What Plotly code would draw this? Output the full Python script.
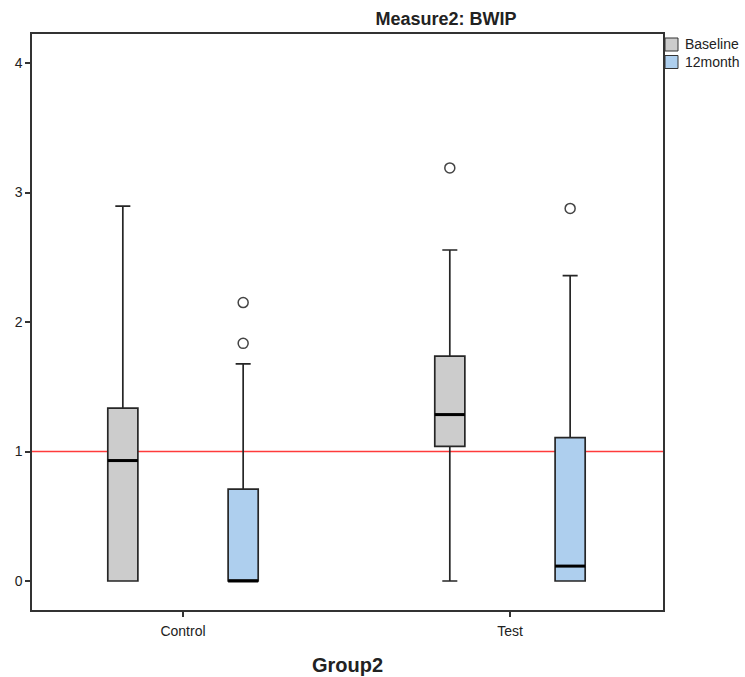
import plotly.graph_objects as go

groups = ["Control", "Test"]
series = ["Baseline", "12month"]
colors = {"Baseline": "#cccccc", "12month": "#aecfee"}

# box statistics per series, for [Control, Test]
lowerfence = {"Baseline": [0.0, 0.0], "12month": [0.0, 0.0]}
q1 = {"Baseline": [0.0, 1.04], "12month": [0.0, 0.0]}
median = {"Baseline": [0.93, 1.285], "12month": [0.0, 0.115]}
q3 = {"Baseline": [1.335, 1.737], "12month": [0.71, 1.107]}
upperfence = {"Baseline": [2.895, 2.556], "12month": [1.676, 2.358]}
outliers = {"Baseline": [[], [3.19]], "12month": [[2.15, 1.835], [2.877]]}

reference_value = 1.0
y_ticks = [0, 1, 2, 3, 4]

offset = {"Baseline": -0.184, "12month": 0.184}
box_w = 0.092

W, H = 745, 677
ML, MR, MT, MB = 32, 82, 34, 67
PW, PH = W - ML - MR, H - MT - MB

fig = go.Figure()
for s in series:
    xs = [i + offset[s] for i in range(len(groups))]
    fig.add_trace(go.Box(
        name=s, x=xs, q1=q1[s], median=median[s], q3=q3[s],
        lowerfence=lowerfence[s], upperfence=upperfence[s],
        width=box_w, whiskerwidth=0.5, fillcolor=colors[s],
        line=dict(color="#262626", width=1.7), boxpoints=False,
        hoverinfo="skip", showlegend=False,
    ))
for s in series:
    for i in range(len(groups)):
        x0 = i + offset[s]
        fig.add_trace(go.Scatter(
            x=[x0 - box_w / 2, x0 + box_w / 2], y=[median[s][i]] * 2,
            mode="lines", line=dict(color="black", width=3),
            showlegend=False, hoverinfo="skip"))
        if outliers[s][i]:
            fig.add_trace(go.Scatter(
                x=[x0] * len(outliers[s][i]), y=outliers[s][i], mode="markers",
                marker=dict(symbol="circle-open", size=10, color="#444444",
                            line=dict(width=1.5, color="#444444")),
                showlegend=False, hoverinfo="skip"))

fig.add_shape(type="line", xref="paper", x0=0, x1=1, yref="y",
              y0=reference_value, y1=reference_value,
              line=dict(color="#ff3b3b", width=1.3), layer="below")

# manual legend (page pixel coords -> paper coords)
def px(xf):
    return (xf - ML) / PW

def py(yf):
    return (H - MB - yf) / PH

annotations = []
for k, s in enumerate(series):
    top = 38 + k * 17.5
    fig.add_shape(type="rect", xref="paper", yref="paper",
                  x0=px(665), x1=px(678), y0=py(top), y1=py(top + 13),
                  fillcolor=colors[s], line=dict(color="#333333", width=1))
    annotations.append(dict(text=s, xref="paper", yref="paper",
                            x=px(683), y=py(top + 6.5), xanchor="left",
                            yanchor="middle", showarrow=False,
                            font=dict(size=14, color="#222222")))

fig.update_layout(
    width=W, height=H,
    margin=dict(l=ML, r=MR, t=MT, b=MB, autoexpand=False),
    paper_bgcolor="white", plot_bgcolor="white",
    font=dict(family="Liberation Sans, Arial, sans-serif", color="#222222", size=14),
    showlegend=False,
    title=dict(text="<b>Measure2: BWIP</b>", x=446 / W, xanchor="center",
               y=1 - 19 / H, yanchor="middle",
               font=dict(size=18, color="#222222")),
    annotations=annotations,
)
fig.update_xaxes(
    range=[-0.4618, 1.468], tickvals=list(range(len(groups))), ticktext=groups,
    showgrid=False, zeroline=False, showline=True, linecolor="#333333", linewidth=1.5,
    mirror=True, ticks="outside", ticklen=5, tickcolor="#333333", tickwidth=1.5,
    tickfont=dict(size=14), ticklabelstandoff=2,
    title=dict(text="<b>Group2</b>", font=dict(size=20, color="#222222"), standoff=20),
)
fig.update_yaxes(
    range=[-0.224, 4.224], tickvals=y_ticks,
    showgrid=False, zeroline=False, showline=True, linecolor="#333333", linewidth=1.5,
    mirror=True, ticks="outside", ticklen=5, tickcolor="#333333", tickwidth=1.5,
    tickfont=dict(size=14),
)

fig.write_html("out.html", config={"displayModeBar": False},
               post_script="document.body.style.margin='0';document.body.style.overflow='hidden';")
